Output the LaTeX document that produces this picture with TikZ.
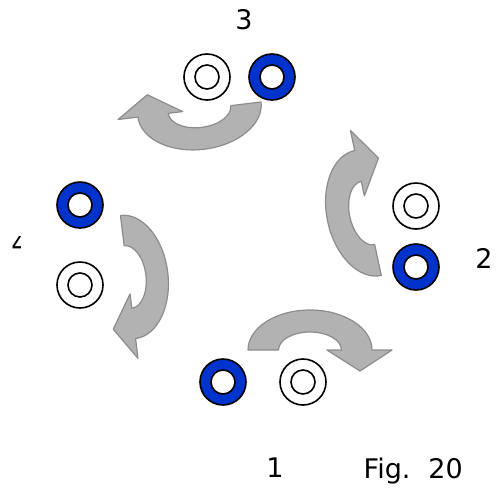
\documentclass[tikz,border=0pt]{standalone}
\usepackage{fontspec}
\setmainfont{DejaVu Sans}
\definecolor{ringblue}{RGB}{0,51,204}
\definecolor{arrfill}{RGB}{178,178,178}
\definecolor{arrline}{RGB}{140,140,140}
\tikzset{
  arrowshape/.style={fill=arrfill, draw=arrline, line width=1.2pt, line join=round},
  outerring/.style={circle, draw=black, line width=1.6pt, inner sep=0pt, minimum size=46pt},
  innerring/.style={circle, draw=black, line width=1.6pt, inner sep=0pt, minimum size=24pt, fill=white},
  lbl/.style={font=\fontsize{27}{30}\selectfont, inner sep=0pt, anchor=base}
}
\newcommand\myCurvArrow[4]{%
  \begin{scope}[shift={(#1,#2)}, rotate=#3, scale=#4]
    \draw[arrowshape] (-62,0) arc[start angle=180, end angle=360, x radius=62, y radius=40]
      -- (82,0) -- (50,21) -- (17,0) -- (31.5,0)
      arc[start angle=360, end angle=180, x radius=31.5, y radius=18] -- cycle;
  \end{scope}}
\begin{document}
\begin{tikzpicture}[x=1pt, y=-1pt]
\useasboundingbox (0,0) rectangle (498,493);
% arrows
\myCurvArrow{310}{350}{0}{1}
\myCurvArrow{368}{213}{102}{1.03}
\myCurvArrow{199.5}{109.5}{-173}{1}
\myCurvArrow{128}{277}{-83}{1}
% group 3
\node[outerring, fill=white] (w3) at (207,77) {};
\node[innerring] (w3i) at (w3.center) {};
\node[outerring, fill=ringblue] (b3) at (272,77) {};
\node[innerring] (b3i) at (b3.center) {};
% group 2
\node[outerring, fill=white] (w2) at (416,206) {};
\node[innerring] (w2i) at (w2.center) {};
\node[outerring, fill=ringblue] (b2) at (416,267) {};
\node[innerring] (b2i) at (b2.center) {};
% group 4
\node[outerring, fill=ringblue] (b4) at (80,205) {};
\node[innerring] (b4i) at (b4.center) {};
\node[outerring, fill=white] (w4) at (80,285) {};
\node[innerring] (w4i) at (w4.center) {};
% group 1
\node[outerring, fill=ringblue] (b1) at (223,382) {};
\node[innerring] (b1i) at (b1.center) {};
\node[outerring, fill=white] (w1) at (303,382) {};
\node[innerring] (w1i) at (w1.center) {};
% labels
\node[lbl] (l3) at (244,29.5) {3};
\node[lbl] (l2) at (484,268) {2};
\node[lbl] (l1) at (275,477) {1};
\node[lbl, anchor=base west] (fig) at (363.5,478) {Fig.\hspace{18pt}20};
\begin{scope}
  \clip (0,236.5) rectangle (20.7,262);
  \node[lbl] (l4) at (20,253) {4};
\end{scope}
\end{tikzpicture}
\end{document}
